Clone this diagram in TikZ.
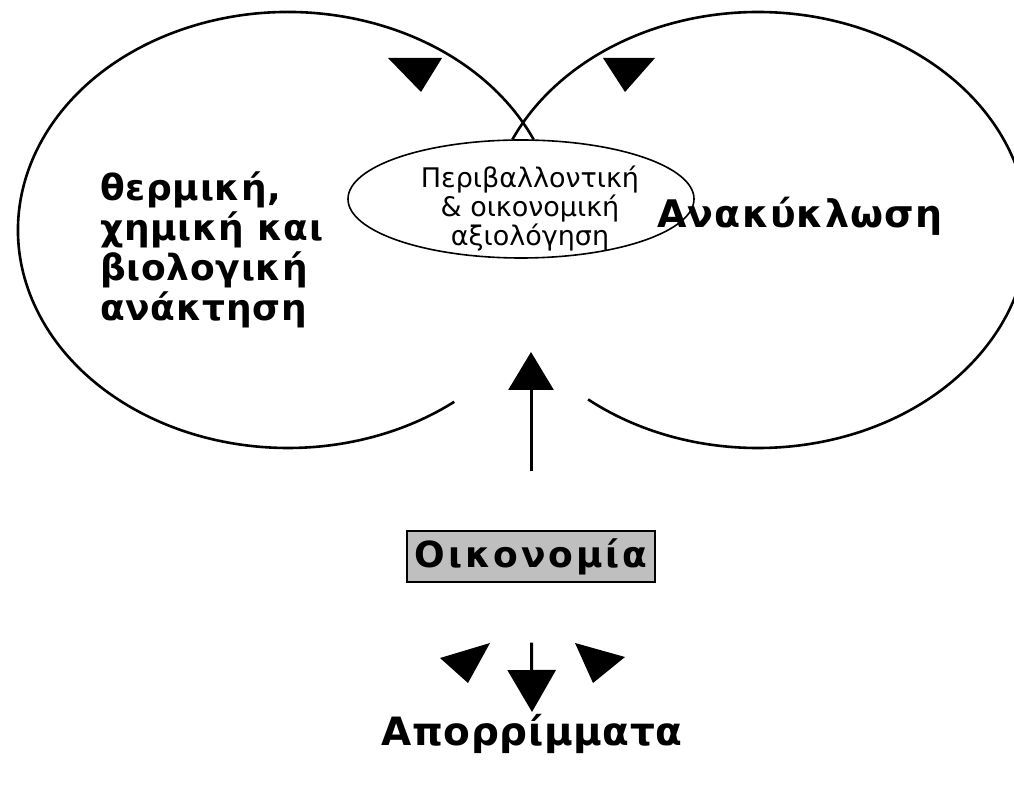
\documentclass[tikz,border=0pt]{standalone}
\usepackage{fontspec}
\setmainfont{DejaVu Sans}
\usetikzlibrary{arrows.meta}

\begin{document}
\begin{tikzpicture}[x=1pt,y=1pt,
  loop/.style={line width=2.6pt},
  head/.style={fill=black},
  flow/.style={line width=3pt, -{Triangle[length=38pt,width=45pt]}},
  sink/.style={line width=3pt, -{Triangle[length=42pt,width=48pt]}},
  boldtxt/.style={font=\bfseries\fontsize{36}{40}\selectfont\addfontfeature{LetterSpace=2}, inner sep=0pt, align=left},
  smalltxt/.style={font=\fontsize{27}{29}\selectfont, inner sep=0pt, align=center},
  econbox/.style={draw, line width=1.2pt, fill=gray!50, minimum width=248pt, minimum height=51pt, inner sep=0pt,
    font=\bfseries\fontsize{36}{38}\selectfont\addfontfeature{LetterSpace=8}}
]
  \useasboundingbox (0,0) rectangle (1014,785);

  % left loop
  \coordinate (lc) at (288,555);
  \draw[loop] ([shift={(24.5:270pt and 218pt)}]lc) arc[start angle=24.5, end angle=308, x radius=270pt, y radius=218pt];
  \fill[head] (388,727) -- (442,727) -- (421,693) -- cycle;

  % right loop
  \coordinate (rc) at (758,555);
  \draw[loop] ([shift={(-129:270pt and 218pt)}]rc) arc[start angle=-129, end angle=155.5, x radius=270pt, y radius=218pt];
  \fill[head] (603,727) -- (655,727) -- (625,693) -- cycle;

  % evaluation in the middle
  \draw[line width=1.6pt] (521,586) ellipse[x radius=173pt, y radius=59pt];
  \node[smalltxt] (eval) at (530,576) {Περιβαλλοντική\\\& οικονομική\\αξιολόγηση};

  % labels of the loops
  \node[boldtxt, anchor=north west] (recov) at (100,613) {θερμική,\\χημική και\\βιολογική\\ανάκτηση};
  \node[boldtxt, anchor=base west, font=\bfseries\fontsize{38}{40}\selectfont\addfontfeature{LetterSpace=3}] (recyc) at (657,557) {Ανακύκλωση};

  % economy and waste
  \node[econbox] (econ) at (531,228.5) {Οικονομία};
  \coordinate (upend) at (531,433);
  \draw[flow, shorten <=59pt] (econ) -- (upend);

  \node[font=\bfseries\fontsize{39}{40}\selectfont\addfontfeature{LetterSpace=1.5}, inner sep=0pt, anchor=base] (waste) at (532,40) {Απορρίμματα};
  \coordinate (downend) at (532,73);
  \draw[sink, shorten <=60pt] (econ) -- (downend);
  \fill[head] (440,127) -- (490,142) -- (468,102) -- cycle;
  \fill[head] (575,142) -- (625,128) -- (593,102) -- cycle;
\end{tikzpicture}
\end{document}
